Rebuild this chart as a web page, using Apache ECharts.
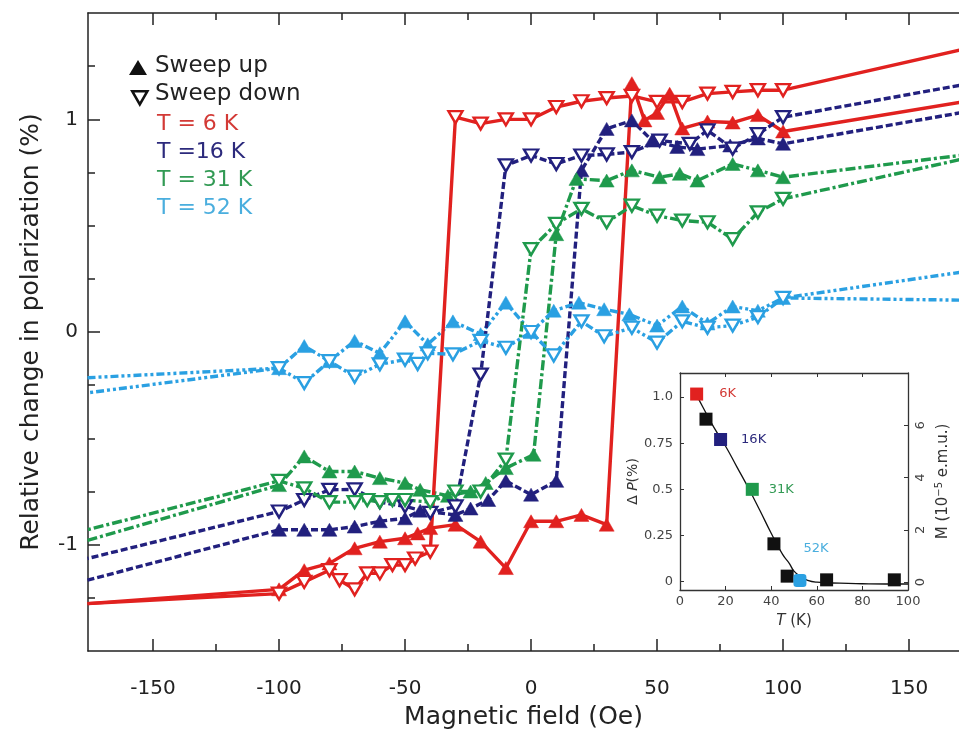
<!DOCTYPE html>
<html><head><meta charset="utf-8">
<script src="https://cdn.jsdelivr.net/npm/echarts@6/dist/echarts.min.js"></script>
<style>html,body{margin:0;padding:0;background:#fff}#c{width:959px;height:731px}</style>
</head><body><div id="c"></div>
<script>
// ---------- main panel data (H in Oe, P in %) ----------
const H_6K_up   = [-176,-100,-90,-80,-70,-60,-50,-45,-40,-30,-20,-10,0,10,20,30,40,45,50,55,60,70,80,90,100,170];
const P_6K_up   = [-1.277,-1.21,-1.12,-1.088,-1.017,-0.986,-0.97,-0.947,-0.922,-0.906,-0.986,-1.11,-0.89,-0.89,-0.86,-0.906,1.17,0.995,1.03,1.12,0.957,0.99,0.985,1.02,0.943,1.08];
const H_6K_down = [170,100,90,80,70,60,50,40,30,20,10,0,-10,-20,-30,-40,-46,-50,-55,-60,-65,-70,-76,-80,-90,-100,-176];
const P_6K_down = [1.325,1.137,1.137,1.129,1.121,1.082,1.082,1.11,1.10,1.085,1.058,1.0,1.0,0.98,1.01,-1.033,-1.065,-1.096,-1.096,-1.135,-1.135,-1.21,-1.167,-1.12,-1.175,-1.23,-1.277];

const H_16K_up   = [-176,-100,-90,-80,-70,-60,-50,-44,-30,-24,-17,-10,0,10,20,30,40,48,58,66,79,90,100,170];
const P_16K_up   = [-1.167,-0.93,-0.93,-0.93,-0.915,-0.89,-0.876,-0.84,-0.86,-0.83,-0.79,-0.70,-0.765,-0.70,0.76,0.955,0.995,0.90,0.87,0.86,0.877,0.91,0.885,1.03];
const H_16K_down = [170,100,90,80,70,63,51,40,30,20,10,0,-10,-20,-30,-40,-50,-60,-70,-80,-90,-100,-176];
const P_16K_down = [1.16,1.01,0.93,0.862,0.948,0.885,0.90,0.846,0.835,0.83,0.79,0.83,0.783,-0.20,-0.82,-0.85,-0.82,-0.80,-0.74,-0.742,-0.79,-0.844,-1.065];

const H_31K_up   = [-176,-100,-90,-80,-70,-60,-50,-44,-33,-24,-18,-10,1,10,18,30,40,51,59,66,80,90,100,170];
const P_31K_up   = [-0.98,-0.72,-0.585,-0.656,-0.656,-0.687,-0.71,-0.742,-0.77,-0.75,-0.71,-0.64,-0.577,0.46,0.72,0.712,0.76,0.728,0.744,0.712,0.79,0.76,0.728,0.83];
const H_31K_down = [170,100,90,80,70,60,50,40,30,20,10,0,-10,-20,-30,-40,-50,-55,-60,-65,-70,-80,-90,-100,-176];
const P_31K_down = [0.81,0.626,0.563,0.437,0.516,0.524,0.547,0.594,0.516,0.579,0.508,0.39,-0.60,-0.75,-0.75,-0.80,-0.79,-0.79,-0.80,-0.79,-0.80,-0.80,-0.735,-0.70,-0.93];

const H_52K_up   = [-176,-100,-90,-80,-70,-60,-50,-41,-31,-20,-10,0,9,19,29,39,50,60,70,80,90,100,170];
const P_52K_up   = [-0.215,-0.17,-0.066,-0.137,-0.042,-0.10,0.05,-0.058,0.05,-0.01,0.138,0.0,0.10,0.138,0.107,0.083,0.03,0.12,0.04,0.12,0.10,0.16,0.28];
const H_52K_down = [170,100,90,80,70,60,50,40,29,20,9,0,-10,-20,-31,-41,-45,-50,-60,-70,-80,-90,-100,-176];
const P_52K_down = [0.15,0.16,0.07,0.03,0.02,0.05,-0.05,0.02,-0.02,0.05,-0.11,0.0,-0.074,-0.042,-0.105,-0.10,-0.15,-0.13,-0.152,-0.21,-0.137,-0.24,-0.17,-0.286];

// ---------- ticks ----------
const xMajorTicks = [-150,-100,-50,0,50,100,150];
const xMinorTicks = [-125,-75,-25,25,75,125];
const yMajorTicks = [-1,0,1];
const yMinorTicks = [-1.25,-0.75,-0.5,-0.25,0.25,0.5,0.75,1.25];

// ---------- inset data ----------
const insetT      = [7.3,11.4,17.8,31.7,41.2,47,52.6,64.3,94];
const insetDP     = [1.016,0.88,0.77,0.50,0.205,0.03,0.007,0.01,0.01];
const insetKind   = ['6K','blk','16K','31K','blk','blk','52K','blk','blk'];
const insetLabels = ['6K','','16K','31K','','','52K','',''];
const curveT = [7,10,15,20,25,30,35,40,45,48,50,53,56,60,70,80,90,100];
const curveM = [7.2,6.7,5.9,5.2,4.4,3.6,2.75,1.87,1.06,0.71,0.42,0.21,0.07,0.0,-0.04,-0.06,-0.07,-0.07];
const insetXTicks = [0,20,40,60,80,100];
const insetYTicks = [0,0.25,0.5,0.75,1];
const insetMTicks = [0,2,4,6];

const COL = {'6K':'#e1211f','16K':'#22207e','31K':'#1f9a4c','52K':'#2aa0e2','blk':'#111111'};
const TXT = {'6K':'#d33a36','16K':'#2c2a7c','31K':'#329a54','52K':'#4aaede'};
const FONT = 'DejaVu Sans';

function mk(H,P){ return H.map((h,i)=> Math.abs(h)>150 ? {value:[h,P[i]], symbol:'none'} : [h,P[i]]); }

function series(name,H,P,key,up,dash){
  const c = COL[key];
  return {
    name:name, type:'line', xAxisIndex:0, yAxisIndex:0, data:mk(H,P),
    lineStyle:{color:c,width:3.4,type:dash}, z: up?3:4,
    symbol:'triangle', symbolRotate: up?0:180, symbolSize: up?[15,13]:[14,12],
    itemStyle: up? {color:c, borderColor:c, borderWidth:0.5} : {color:'#ffffff', borderColor:c, borderWidth:2.4},
    emphasis:{disabled:true}, animation:false
  };
}
const dashNavy = [7,3];
const dashGreen = [10,3,3,3];
const dashBlue = [8,3,3,3,3,3];

const mainSeries = [
  series('6K up',H_6K_up,P_6K_up,'6K',true,'solid'),
  series('6K down',H_6K_down,P_6K_down,'6K',false,'solid'),
  series('16K up',H_16K_up,P_16K_up,'16K',true,dashNavy),
  series('16K down',H_16K_down,P_16K_down,'16K',false,dashNavy),
  series('31K up',H_31K_up,P_31K_up,'31K',true,dashGreen),
  series('31K down',H_31K_down,P_31K_down,'31K',false,dashGreen),
  series('52K up',H_52K_up,P_52K_up,'52K',true,dashBlue),
  series('52K down',H_52K_down,P_52K_down,'52K',false,dashBlue)
];

const insetPts = insetT.map((t,i)=>{
  const k = insetKind[i];
  const item = {value:[t,insetDP[i]], itemStyle:{color:COL[k], opacity:1}};
  if (k==='52K') item.symbol='roundRect';
  if (insetLabels[i]) {
    item.label = {show:true, formatter:insetLabels[i], color:TXT[k], fontFamily:FONT, fontSize:13,
      position: k==='52K' ? [10,-32] : 'right', distance: k==='6K'?16:(k==='16K'?14:10)};
  }
  return item;
});

const axisLineStyle = {color:'#222',width:1.5};
const tickStyle = {color:'#222',width:1.5};
const option = {
  backgroundColor:'#ffffff',
  animation:false,
  grid:[
    {left:88, top:13, right:0, bottom:80, containLabel:false, outerBoundsMode:'none'},
    {left:680, top:373, width:228, height:217, containLabel:false, outerBoundsMode:'none', show:true, backgroundColor:'#ffffff', borderWidth:0}
  ],
  xAxis:[
    {gridIndex:0, type:'value', min:-175.8, max:169.8, position:'bottom',
      axisLine:{show:true,onZero:false,lineStyle:axisLineStyle},
      axisTick:{show:true,inside:true,length:12,customValues:xMajorTicks,lineStyle:tickStyle},
      axisLabel:{show:true,customValues:xMajorTicks,fontFamily:FONT,fontSize:20,color:'#222',margin:28},
      splitLine:{show:false},
      name:'Magnetic field (Oe)', nameLocation:'middle', nameGap:54,
      nameTextStyle:{fontFamily:FONT,fontSize:25,color:'#222'}},
    {gridIndex:0, type:'value', min:-175.8, max:169.8, position:'bottom',
      axisLine:{show:false,onZero:false}, axisTick:{show:true,inside:true,length:7,customValues:xMinorTicks,lineStyle:tickStyle},
      axisLabel:{show:false}, splitLine:{show:false}},
    {gridIndex:0, type:'value', min:-175.8, max:169.8, position:'top',
      axisLine:{show:true,onZero:false,lineStyle:axisLineStyle},
      axisTick:{show:true,inside:true,length:12,customValues:xMajorTicks,lineStyle:tickStyle},
      axisLabel:{show:false}, splitLine:{show:false}},
    {gridIndex:0, type:'value', min:-175.8, max:169.8, position:'top',
      axisLine:{show:false,onZero:false}, axisTick:{show:true,inside:true,length:7,customValues:xMinorTicks,lineStyle:tickStyle},
      axisLabel:{show:false}, splitLine:{show:false}},
    {gridIndex:1, type:'value', min:0, max:100, position:'bottom',
      axisLine:{show:true,onZero:false,lineStyle:{color:'#333',width:1.3}},
      axisTick:{show:true,inside:true,length:4,customValues:insetXTicks,lineStyle:{color:'#333'}},
      axisLabel:{show:true,customValues:insetXTicks,fontFamily:FONT,fontSize:13,color:'#444',margin:5},
      splitLine:{show:false},
      name:'{i|T} (K)', nameLocation:'middle', nameGap:24,
      nameTextStyle:{fontFamily:FONT,fontSize:15,color:'#333',rich:{i:{fontFamily:FONT,fontSize:15,fontStyle:'italic',color:'#333'}}}},
    {gridIndex:1, type:'value', min:0, max:100, position:'top',
      axisLine:{show:true,onZero:false,lineStyle:{color:'#333',width:1.3}},
      axisTick:{show:true,inside:true,length:4,customValues:[20,40,60,80],lineStyle:{color:'#333'}},
      axisLabel:{show:false}, splitLine:{show:false}}
  ],
  yAxis:[
    {gridIndex:0, type:'value', min:-1.5, max:1.5, position:'left',
      axisLine:{show:true,onZero:false,lineStyle:axisLineStyle},
      axisTick:{show:true,inside:true,length:12,customValues:yMajorTicks,lineStyle:tickStyle},
      axisLabel:{show:true,customValues:yMajorTicks,fontFamily:FONT,fontSize:20,color:'#222',margin:10},
      splitLine:{show:false},
      name:'Relative change in polarization (%)', nameLocation:'middle', nameGap:44, nameRotate:90,
      nameTextStyle:{fontFamily:FONT,fontSize:25,color:'#222'}},
    {gridIndex:0, type:'value', min:-1.5, max:1.5, position:'left',
      axisLine:{show:false,onZero:false}, axisTick:{show:true,inside:true,length:7,customValues:yMinorTicks,lineStyle:tickStyle},
      axisLabel:{show:false}, splitLine:{show:false}},
    {gridIndex:1, type:'value', min:-0.045, max:1.13, position:'left',
      axisLine:{show:true,onZero:false,lineStyle:{color:'#333',width:1.3}},
      axisTick:{show:true,inside:true,length:4,customValues:insetYTicks,lineStyle:{color:'#333'}},
      axisLabel:{show:true,customValues:insetYTicks,fontFamily:FONT,fontSize:13,color:'#444',margin:7,
        formatter:v=> v===1?'1.0':String(v)},
      splitLine:{show:false},
      name:'{d|Δ }{i|P}{d|(%)}', nameLocation:'middle', nameGap:40, nameRotate:90,
      nameTextStyle:{fontFamily:FONT,fontSize:14,color:'#333',rich:{d:{fontFamily:FONT,fontSize:14,color:'#333'},i:{fontFamily:FONT,fontSize:14,fontStyle:'italic',color:'#333'}}}},
    {gridIndex:1, type:'value', min:-0.3, max:8.0, position:'right',
      axisLine:{show:true,onZero:false,lineStyle:{color:'#333',width:1.3}},
      axisTick:{show:true,inside:true,length:4,customValues:insetMTicks,lineStyle:{color:'#333'}},
      axisLabel:{show:true,customValues:insetMTicks,fontFamily:FONT,fontSize:13,color:'#444',margin:6,rotate:90},
      splitLine:{show:false},
      name:'M (10{s|−5} e.m.u.)', nameLocation:'middle', nameGap:26, nameRotate:90,
      nameTextStyle:{fontFamily:FONT,fontSize:15,color:'#333',rich:{s:{fontFamily:FONT,fontSize:10,color:'#333',verticalAlign:'top',padding:[0,0,8,0]}}}}
  ],
  series: mainSeries.concat([
    {name:'M curve', type:'line', xAxisIndex:4, yAxisIndex:3, data:curveT.map((t,i)=>[t,curveM[i]]),
      smooth:true, symbol:'none', lineStyle:{color:'#111',width:1.3}, z:5, silent:true},
    {name:'dP', type:'scatter', xAxisIndex:4, yAxisIndex:2, data:insetPts, symbol:'rect', symbolSize:13, z:6, silent:true,
      itemStyle:{opacity:1}}
  ]),
  graphic:[
    {type:'polygon', left:129, top:60, shape:{points:[[9,0],[18,15],[0,15]]}, style:{fill:'#111'}},
    {type:'text', left:155, top:55, style:{text:'Sweep up', font:'23px "DejaVu Sans"', fill:'#222'}},
    {type:'polygon', left:131, top:90, shape:{points:[[0,0],[15,0],[7.5,13]]}, style:{fill:'#fff',stroke:'#111',lineWidth:2.6}},
    {type:'text', left:155, top:83, style:{text:'Sweep down', font:'23px "DejaVu Sans"', fill:'#222'}},
    {type:'text', left:157, top:113, style:{text:'T = 6 K', font:'22px "DejaVu Sans"', fill:TXT['6K']}},
    {type:'text', left:157, top:141, style:{text:'T =16 K', font:'22px "DejaVu Sans"', fill:TXT['16K']}},
    {type:'text', left:157, top:169, style:{text:'T = 31 K', font:'22px "DejaVu Sans"', fill:TXT['31K']}},
    {type:'text', left:157, top:197, style:{text:'T = 52 K', font:'22px "DejaVu Sans"', fill:TXT['52K']}}
  ]
};
const chart = echarts.init(document.getElementById('c'));
chart.setOption(option);
</script></body></html>
